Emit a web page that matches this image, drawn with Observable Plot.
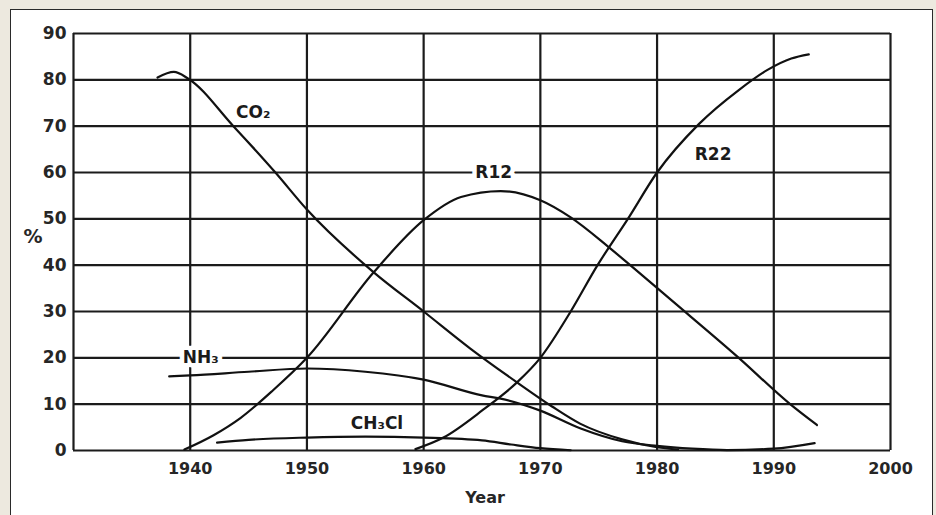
<!DOCTYPE html>
<html>
<head>
<meta charset="utf-8">
<script src="https://cdn.jsdelivr.net/npm/d3@7"></script>
<script src="https://cdn.jsdelivr.net/npm/@observablehq/plot@0.6"></script>
<style>
  html, body { margin: 0; padding: 0; background: #EDE9DF; width: 936px; height: 515px; overflow: hidden; }
  #panel { position: absolute; left: 10px; top: 9px; width: 923px; height: 520px; background: #fff; border: 1.6px solid #2a2a2a; box-sizing: border-box; }
  #chart { position: absolute; left: 0; top: 0; }
</style>
</head>
<body>
<div id="panel"></div>
<div id="chart"></div>
<script>
// ---- data ----
const yTicks = [0, 10, 20, 30, 40, 50, 60, 70, 80, 90];
const xTicks = [1940, 1950, 1960, 1970, 1980, 1990, 2000];
const xTickLabels = ["1940", "1950", "1960", "1970", "1980", "1990", "2000"];
const xFrame = [1930, 1940, 1950, 1960, 1970, 1980, 1990, 2000];

const co2Years  = [1937.2, 1938.6, 1939.8, 1943.7, 1947.3, 1950, 1955.7, 1960, 1964, 1968, 1971, 1973.4, 1977, 1980, 1981.8];
const co2Values = [80.5, 81.7, 80.3, 70, 60, 52, 38.5, 30, 22, 14.7, 9.5, 5.8, 2.4, 0.7, 0.2];

const r12Years  = [1939.5, 1942, 1944.3, 1947.1, 1950, 1955.7, 1960, 1963.2, 1966.6, 1970, 1972.6, 1975.8, 1977.7, 1981.2, 1987, 1991.4, 1993.7];
const r12Values = [0.2, 3.3, 7, 13, 20, 38.4, 49.7, 54.7, 56, 54, 50.3, 44, 40, 32.5, 20, 10, 5.5];

const r22Years  = [1959.3, 1961.7, 1965.1, 1968, 1970, 1972.6, 1974.9, 1977.5, 1980, 1983.6, 1987, 1989.5, 1991.5, 1993];
const r22Values = [0.3, 2.8, 8.8, 14.7, 20, 30, 40, 50, 60, 70.5, 77.8, 82.2, 84.6, 85.5];

const nh3Years  = [1938.2, 1940, 1945, 1950, 1955, 1960, 1965, 1966.6, 1970, 1973.4, 1977, 1980, 1983, 1986, 1990, 1993.5];
const nh3Values = [16, 16.2, 17.0, 17.7, 17.0, 15.3, 11.9, 11.2, 8.6, 4.8, 2.0, 1.0, 0.4, 0.1, 0.4, 1.6];

const ch3clYears  = [1942.3, 1945, 1950, 1955, 1960, 1965, 1967.5, 1970, 1972.6];
const ch3clValues = [1.7, 2.3, 2.8, 3.0, 2.8, 2.2, 1.3, 0.5, 0.05];

const labelText  = ["CO₂", "R12", "R22", "NH₃", "CH₃Cl"];
const labelYear  = [1945.4, 1966.0, 1984.8, 1940.9, 1956.0];
const labelValue = [73, 59.9, 63.8, 20.1, 5.8];

// ---- build tables ----
function rows(name, xs, ys) { return xs.map((x, i) => ({series: name, year: x, value: ys[i]})); }
const lines = [
  ...rows("CO2", co2Years, co2Values),
  ...rows("R12", r12Years, r12Values),
  ...rows("R22", r22Years, r22Values),
  ...rows("NH3", nh3Years, nh3Values),
  ...rows("CH3Cl", ch3clYears, ch3clValues)
];
const labels = labelText.map((t, i) => ({text: t, year: labelYear[i], value: labelValue[i]}));

const ink = "#1b1b1b";
const font = "DejaVu Sans";

const chart = Plot.plot({
  width: 936,
  height: 515,
  marginLeft: 73,
  marginRight: 46,
  marginTop: 33,
  marginBottom: 65,
  style: {background: "transparent", fontFamily: font, fontWeight: "bold", color: "#262626"},
  x: {domain: [1930, 2000]},
  y: {domain: [0, 90]},
  marks: [
    Plot.ruleY(yTicks, {y: d => d, stroke: ink, strokeWidth: 2.2}),
    Plot.ruleX(xFrame, {x: d => d, stroke: ink, strokeWidth: 2.2}),
    Plot.text(labels, {x: "year", y: "value", text: "text", fill: ink, stroke: "white", strokeWidth: 9,
      fontSize: 17, fontWeight: "bold", fontFamily: font}),
    Plot.line(lines, {x: "year", y: "value", z: "series", stroke: "#111", strokeWidth: 2.2, curve: "monotone-x"}),
    Plot.axisY({ticks: yTicks, tickSize: 0, tickPadding: 7, fontSize: 17, label: null}),
    Plot.axisX({ticks: xTicks, tickFormat: d => xTickLabels[xTicks.indexOf(d)], tickSize: 0, tickPadding: 12, fontSize: 16, label: null}),
    Plot.text(["Year"], {frameAnchor: "bottom", dy: 52, dx: 3, text: d => d, fontSize: 16, fontWeight: "bold", fontFamily: font, fill: "#262626"}),
    Plot.text(["%"], {frameAnchor: "left", dx: -50, dy: -5, text: d => d, fontSize: 19, fontWeight: "bold", fontFamily: font, fill: "#262626"})
  ]
});
document.getElementById("chart").appendChild(chart);
</script>
</body>
</html>
